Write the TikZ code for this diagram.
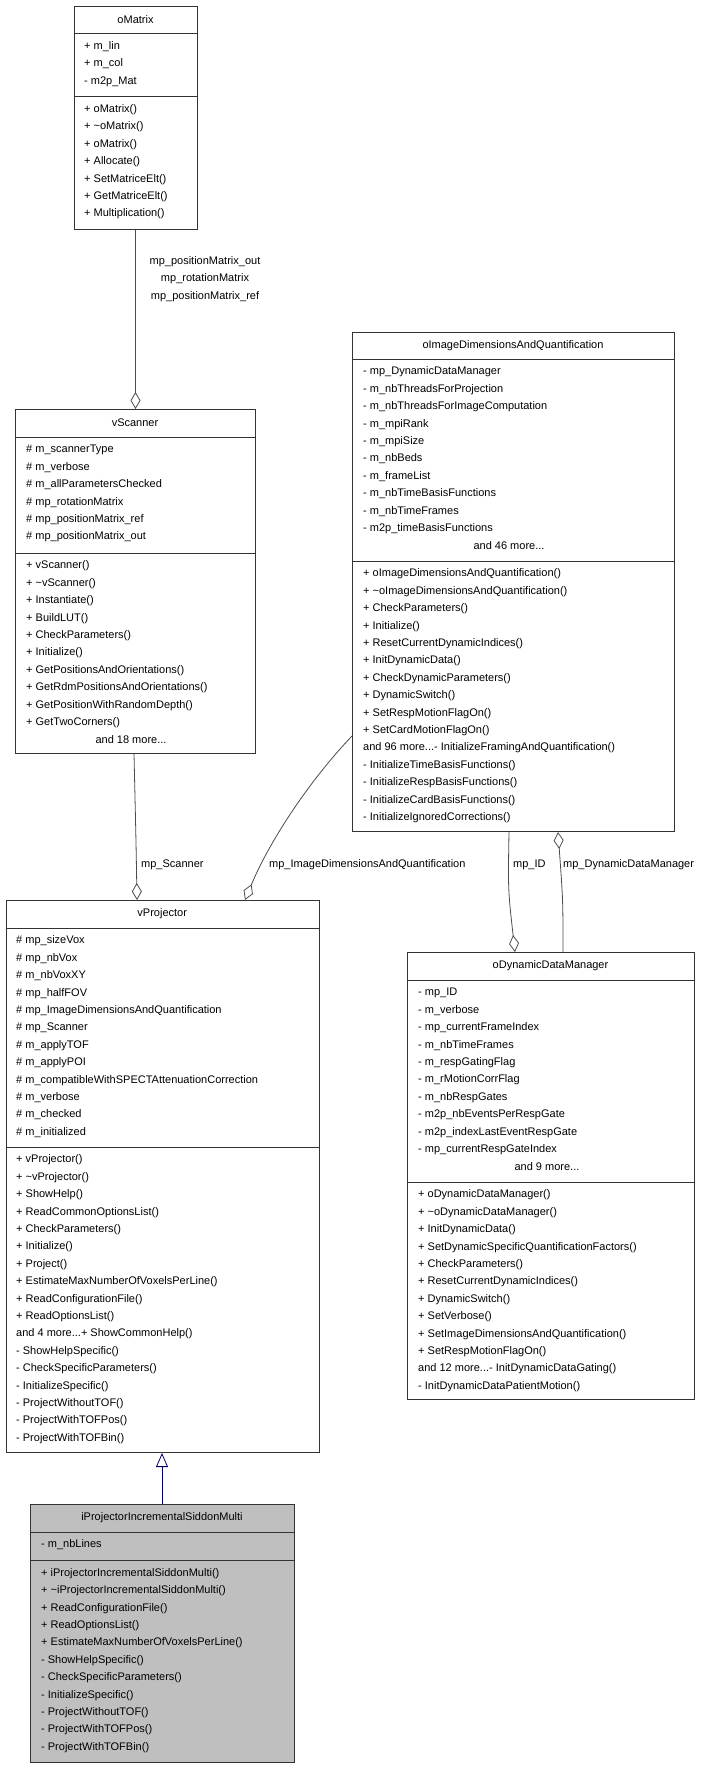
\documentclass[tikz,border=0pt]{standalone}
\usepackage{fontspec}
\setmainfont{Liberation Sans}
\usetikzlibrary{arrows.meta,calc}
\begin{document}
\begin{tikzpicture}[x=1pt,y=-1pt,
  every node/.style={font=\fontsize{11}{13}\selectfont, inner sep=0pt},
  agg/.style={draw=black!70, line width=0.8pt, {Diamond[open,length=17pt,width=10pt]}-},
  inh/.style={draw=blue!40!black, line width=0.8pt, -{Triangle[open,length=14pt,width=12pt]}},
  lbl/.style={anchor=west}]
\useasboundingbox (0,0) rectangle (721,1768);
\newcommand{\mdots}{.\kern0pt.\kern0pt.}
% L T R S1 S2 B fill name title
\newcommand{\cbox}[9]{%
  \node[anchor=north west, draw=black!80, line width=1pt, fill=#7, minimum width=#3-#1, minimum height=#6-#2] (#8) at (#1,#2) {};
  \draw[black!80, line width=1pt] (#1,#4) -- (#3,#4) (#1,#5) -- (#3,#5);
  \node at ({(#1+#3)/2},{(#2+#4)/2}) {#9};}
\newcommand{\lines}[4]{% x, firsty, startindex, list
  \foreach \t [count=\i from #3] in {#4} {\node[anchor=west] at (#1,{#2+13+17.4*(\i)}) {\t};}}
% oMatrix
\cbox{74}{5.7}{197}{33.7}{96.6}{228.7}{white}{om}{oMatrix}
\lines{84}{33.7}{0}{+ m\_lin,+ m\_col,- m2p\_Mat}
\lines{84}{96.6}{0}{+ oMatrix(),+ \textasciitilde oMatrix(),+ oMatrix(),+ Allocate(),+ SetMatriceElt(),+ GetMatriceElt(),+ Multiplication()}
% vScanner
\cbox{15}{409}{255}{437}{553}{753}{white}{vs}{vScanner}
\lines{26}{437}{0}{\# m\_scannerType,\# m\_verbose,\# m\_allParametersChecked,\# mp\_rotationMatrix,\# mp\_positionMatrix\_ref,\# mp\_positionMatrix\_out}
\lines{26}{553}{0}{+ vScanner(),+ \textasciitilde vScanner(),+ Instantiate(),+ BuildLUT(),+ CheckParameters(),+ Initialize(),+ GetPositionsAndOrientations(),+ GetRdmPositionsAndOrientations(),+ GetPositionWithRandomDepth(),+ GetTwoCorners()}
\node at (131,{553+13+174}) {and 18 more\mdots};
% oImageDimensionsAndQuantification
\cbox{352}{332}{674}{359}{561}{831}{white}{oi}{oImageDimensionsAndQuantification}
\lines{363}{359}{0}{- mp\_DynamicDataManager,- m\_nbThreadsForProjection,- m\_nbThreadsForImageComputation,- m\_mpiRank,- m\_mpiSize,- m\_nbBeds,- m\_frameList,- m\_nbTimeBasisFunctions,- m\_nbTimeFrames,- m2p\_timeBasisFunctions}
\node at (509,{359+13+174}) {and 46 more\mdots};
\lines{363}{561}{0}{+ oImageDimensionsAndQuantification(),+ \textasciitilde oImageDimensionsAndQuantification(),+ CheckParameters(),+ Initialize(),+ ResetCurrentDynamicIndices(),+ InitDynamicData(),+ CheckDynamicParameters(),+ DynamicSwitch(),+ SetRespMotionFlagOn(),+ SetCardMotionFlagOn(),{and 96 more\mdots- InitializeFramingAndQuantification()},- InitializeTimeBasisFunctions(),- InitializeRespBasisFunctions(),- InitializeCardBasisFunctions(),- InitializeIgnoredCorrections()}
% vProjector
\cbox{5.5}{900}{319}{928}{1147}{1452}{white}{vp}{vProjector}
\lines{16}{928}{0}{\# mp\_sizeVox,\# mp\_nbVox,\# m\_nbVoxXY,\# mp\_halfFOV,\# mp\_ImageDimensionsAndQuantification,\# mp\_Scanner,\# m\_applyTOF,\# m\_applyPOI,\# m\_compatibleWithSPECTAttenuationCorrection,\# m\_verbose,\# m\_checked,\# m\_initialized}
\lines{16}{1147}{0}{+ vProjector(),+ \textasciitilde vProjector(),+ ShowHelp(),+ ReadCommonOptionsList(),+ CheckParameters(),+ Initialize(),+ Project(),+ EstimateMaxNumberOfVoxelsPerLine(),+ ReadConfigurationFile(),+ ReadOptionsList(),{and 4 more\mdots+ ShowCommonHelp()},- ShowHelpSpecific(),- CheckSpecificParameters(),- InitializeSpecific(),- ProjectWithoutTOF(),- ProjectWithTOFPos(),- ProjectWithTOFBin()}
% oDynamicDataManager
\cbox{407}{952}{694}{980}{1182}{1399}{white}{od}{oDynamicDataManager}
\lines{418}{980}{0}{- mp\_ID,- m\_verbose,- mp\_currentFrameIndex,- m\_nbTimeFrames,- m\_respGatingFlag,- m\_rMotionCorrFlag,- m\_nbRespGates,- m2p\_nbEventsPerRespGate,- m2p\_indexLastEventRespGate,- mp\_currentRespGateIndex}
\node at (547,{980+13+174}) {and 9 more\mdots};
\lines{418}{1182}{0}{+ oDynamicDataManager(),+ \textasciitilde oDynamicDataManager(),+ InitDynamicData(),+ SetDynamicSpecificQuantificationFactors(),+ CheckParameters(),+ ResetCurrentDynamicIndices(),+ DynamicSwitch(),+ SetVerbose(),+ SetImageDimensionsAndQuantification(),+ SetRespMotionFlagOn(),{and 12 more\mdots- InitDynamicDataGating()},- InitDynamicDataPatientMotion()}
% iProjectorIncrementalSiddonMulti
\cbox{30}{1504}{294}{1532}{1560.5}{1762}{black!25}{ip}{iProjectorIncrementalSiddonMulti}
\lines{41}{1532}{0}{- m\_nbLines}
\lines{41}{1560.5}{0}{+ iProjectorIncrementalSiddonMulti(),+ \textasciitilde iProjectorIncrementalSiddonMulti(),+ ReadConfigurationFile(),+ ReadOptionsList(),+ EstimateMaxNumberOfVoxelsPerLine(),- ShowHelpSpecific(),- CheckSpecificParameters(),- InitializeSpecific(),- ProjectWithoutTOF(),- ProjectWithTOFPos(),- ProjectWithTOFBin()}
% connectors
\draw[agg] ($(vs.north west)+(120.5,0)$) -- ($(om.south west)+(61.5,0)$);
\node at (205,262) {mp\_positionMatrix\_out};
\node at (205,279) {mp\_rotationMatrix};
\node at (205,297) {mp\_positionMatrix\_ref};
\draw[agg] ($(vp.north west)+(131.5,0)$) .. controls (136,840) .. ($(vs.south west)+(119,0)$);
\node[lbl] at (141,865) {mp\_Scanner};
\draw[agg] ($(vp.north west)+(239.5,0)$) .. controls (270,840) and (310,780) .. ($(oi.north west)+(0,404)$);
\node[lbl] at (269,865) {mp\_ImageDimensionsAndQuantification};
\draw[agg] ($(od.north west)+(108,0)$) .. controls (508,890) .. ($(oi.south west)+(157,0)$);
\node[lbl] at (513,865) {mp\_ID};
\draw[agg] ($(oi.south west)+(206,0)$) .. controls (563,900) .. ($(od.north west)+(156,0)$);
\node[lbl] at (563,865) {mp\_DynamicDataManager};
\draw[inh] (ip.north -| 162,0) -- (vp.south -| 162,0);
\end{tikzpicture}
\end{document}
